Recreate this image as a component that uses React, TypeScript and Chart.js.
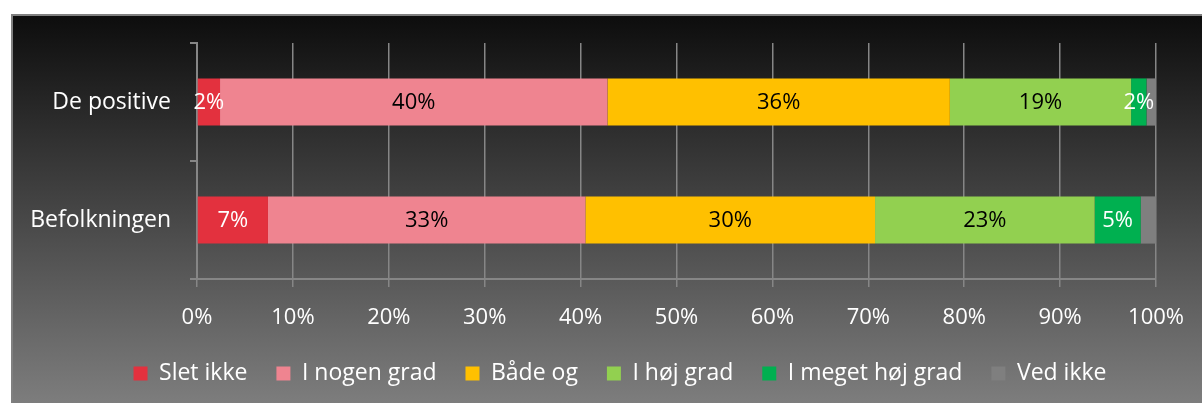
import React, { useEffect, useRef } from "react";
import { Chart, registerables } from "chart.js";

Chart.register(...registerables);

const categories = ["De positive", "Befolkningen"];
const seriesNames = ["Slet ikke", "I nogen grad", "Både og", "I høj grad", "I meget høj grad", "Ved ikke"];
const sletIkke = [2.4, 7.4];
const iNogenGrad = [40.4, 33.1];
const baadeOg = [35.7, 30.2];
const iHoejGrad = [18.9, 22.9];
const iMegetHoejGrad = [1.6, 4.8];
const vedIkke = [1.0, 1.6];
const seriesColors = ["#E3313E", "#EF8490", "#FFC000", "#92D050", "#00B050", "#7F7F7F"];
const labelColors = ["#FFFFFF", "#000000", "#000000", "#000000", "#FFFFFF", null];
const xTicks = [0, 10, 20, 30, 40, 50, 60, 70, 80, 90, 100];

const FONT = "'Open Sans', sans-serif";

const barLabelPlugin = {
  id: "barLabels",
  afterDatasetsDraw(chart: any) {
    const ctx = chart.ctx;
    ctx.save();
    ctx.font = `22px ${FONT}`;
    ctx.textAlign = "center";
    ctx.textBaseline = "middle";
    chart.data.datasets.forEach((ds: any, di: number) => {
      const color = labelColors[di];
      if (!color) return;
      const meta = chart.getDatasetMeta(di);
      meta.data.forEach((el: any, i: number) => {
        const v = ds.data[i];
        const c = el.getCenterPoint();
        ctx.fillStyle = color;
        ctx.fillText(Math.round(v) + "%", c.x, c.y + 1);
      });
    });
    ctx.restore();
  },
};

const legendShiftPlugin = {
  id: "legendShift",
  afterLayout(chart: any) {
    if (chart.legend) {
      chart.legend.left += 35;
      chart.legend.right += 35;
    }
  },
};

export default function App() {
  const ref = useRef<HTMLCanvasElement | null>(null);
  useEffect(() => {
    if (!ref.current) return;
    const allSeries = [sletIkke, iNogenGrad, baadeOg, iHoejGrad, iMegetHoejGrad, vedIkke];
    const chart = new Chart(ref.current, {
      type: "bar",
      data: {
        labels: categories,
        datasets: allSeries.map((d, i) => ({
          label: seriesNames[i],
          data: d,
          backgroundColor: seriesColors[i],
          borderWidth: 0,
          barPercentage: 0.4,
          categoryPercentage: 1,
        })),
      },
      options: {
        indexAxis: "y",
        animation: false,
        responsive: false,
        maintainAspectRatio: false,
        layout: { padding: { top: 27, right: 45, left: 0, bottom: 8 } },
        scales: {
          x: {
            stacked: true,
            min: 0,
            max: 100,
            afterFit: (s: any) => { s.height = 54; },
            afterBuildTicks: (s: any) => { s.ticks = xTicks.map((v) => ({ value: v })); },
            ticks: {
              color: "#FFFFFF",
              font: { family: FONT, size: 22 },
              padding: 18,
              callback: (v: any) => v + "%",
              maxRotation: 0,
            },
            grid: {
              color: "#868686",
              lineWidth: 1.5,
              drawOnChartArea: true,
              drawTicks: true,
              tickLength: 8,
            },
            border: { display: true, color: "#868686", width: 2 },
          },
          y: {
            stacked: true,
            afterFit: (s: any) => { s.width = 184; s.paddingTop = 0; s.paddingBottom = 0; },
            ticks: {
              color: "#FFFFFF",
              font: { family: FONT, size: 23 },
              padding: 19,
            },
            grid: {
              offset: true,
              color: "#868686",
              lineWidth: 2,
              drawOnChartArea: false,
              drawTicks: true,
              tickLength: 7,
            },
            border: { display: true, color: "#868686", width: 2 },
          },
        },
        plugins: {
          legend: {
            position: "bottom",
            labels: {
              color: "#FFFFFF",
              font: { family: FONT, size: 23 },
              boxWidth: 14,
              boxHeight: 14,
              padding: 29,
            },
          },
          tooltip: { enabled: false },
        },
      },
      plugins: [barLabelPlugin, legendShiftPlugin],
    } as any);
    return () => chart.destroy();
  }, []);

  return (
    <div
      style={{
        position: "absolute",
        left: 11,
        top: 14,
        width: 1189,
        height: 387,
        borderTop: "2px solid #808080",
        borderLeft: "2px solid #808080",
        background: "linear-gradient(#0d0d0d, #7d7d7d)",
      }}
    >
      <canvas ref={ref} width={1189} height={387} style={{ display: "block", width: 1189, height: 387 }} />
    </div>
  );
}
